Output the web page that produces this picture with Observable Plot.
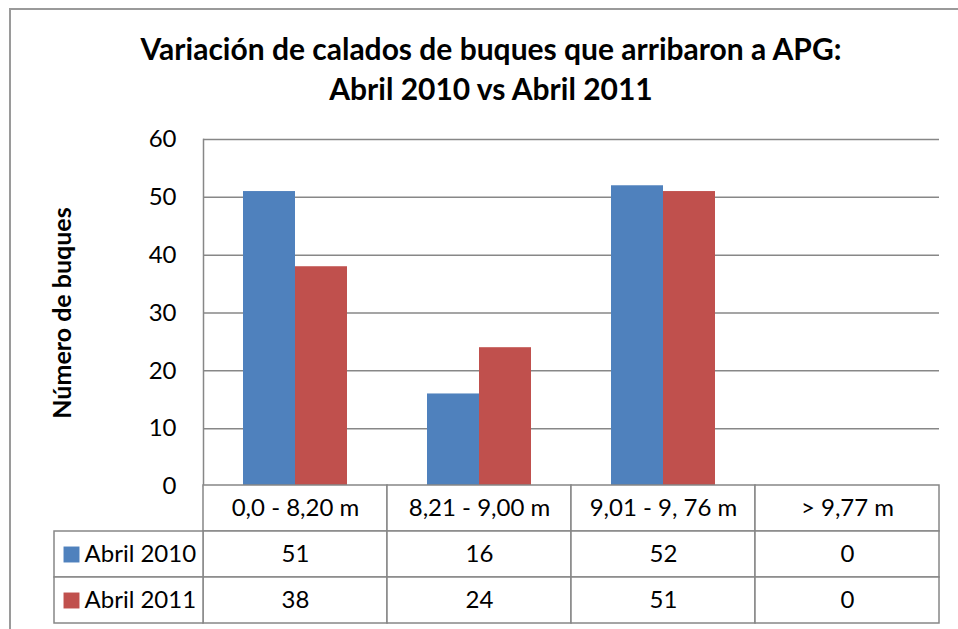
<!DOCTYPE html>
<html><head><meta charset="utf-8">
<script src="https://cdn.jsdelivr.net/npm/d3@7"></script>
<script src="https://cdn.jsdelivr.net/npm/@observablehq/plot@0.6"></script>
<style>
body{margin:0;background:#fff;}
#wrap{position:relative;width:958px;height:629px;overflow:hidden;font-family:Lato, sans-serif;}
#border{position:absolute;left:9px;top:8px;width:1000px;height:700px;border-left:2px solid #9a9a9a;border-top:2px solid #9a9a9a;}
.title{position:absolute;left:0;width:982px;text-align:center;font-weight:bold;font-size:30px;line-height:34px;color:#000;}
#main,#table,#labels{position:absolute;}
#main{left:0;top:0;}
#table{left:0;top:484px;}
#labels{left:53px;top:484px;}
#main g[aria-label="y-axis label"] text{font-weight:bold;font-size:25px;}
</style></head><body>
<div id="wrap">
<div id="border"></div>
<div class="title" style="top:31px">Variación de calados de buques que arribaron a APG:</div>
<div class="title" style="top:71px">Abril 2010 vs Abril 2011</div>
<div id="main"></div><div id="table"></div><div id="labels"></div>
</div>
<script>
const categories = ["0,0 - 8,20 m", "8,21 - 9,00 m", "9,01 - 9, 76 m", "> 9,77 m"];
const series = ["Abril 2010", "Abril 2011"];
const abril2010 = [51, 16, 52, 0];
const abril2011 = [38, 24, 51, 0];
const yTicks = [0, 10, 20, 30, 40, 50, 60];
const colors = ["#4F81BD", "#C0504D"];

const seriesValues = [abril2010, abril2011];
const data = series.flatMap((s, i) => categories.map((c, j) => ({category: c, series: s, value: seriesValues[i][j]})));

const font = {fontFamily: "Lato, sans-serif", fontSize: "24px", color: "#000", background: "transparent", overflow: "visible"};
const grid = "#878787";

const main = Plot.plot({
  width: 958, height: 486,
  marginLeft: 203, marginRight: 19, marginTop: 139, marginBottom: 0,
  style: font,
  x: {domain: categories, padding: 0, axis: null},
  y: {domain: [0, 60], ticks: yTicks, tickSize: 0, tickPadding: 27, label: "Número de buques", labelArrow: false, labelAnchor: "center", labelOffset: 150},
  color: {domain: series, range: colors},
  marks: [
    Plot.ruleY(yTicks.filter(d => d > 0), {stroke: grid, strokeWidth: 1.5}),
    Plot.frame({anchor: "left", stroke: grid, strokeWidth: 1.5}),
    Plot.barY(data.filter(d => d.series === series[0]), {x: "category", y: "value", fill: "series", insetLeft: 40, insetRight: 92}),
    Plot.barY(data.filter(d => d.series === series[1]), {x: "category", y: "value", fill: "series", insetLeft: 92, insetRight: 40})
  ]
});
document.getElementById("main").appendChild(main);

const rows = ["header", ...series];
const tableData = [
  ...categories.map(c => ({category: c, row: "header", text: c})),
  ...data.map(d => ({category: d.category, row: d.series, text: String(d.value)}))
];

const table = Plot.plot({
  width: 958, height: 142,
  marginLeft: 203, marginRight: 19, marginTop: 1, marginBottom: 3,
  style: font,
  x: {domain: categories, padding: 0, axis: null},
  y: {domain: rows, padding: 0, axis: null},
  marks: [
    Plot.cell(tableData, {x: "category", y: "row", fill: "white", stroke: grid, strokeWidth: 1.5}),
    Plot.text(tableData, {x: "category", y: "row", text: "text", fill: "#000", fontSize: 24})
  ]
});
document.getElementById("table").appendChild(table);

const labels = Plot.plot({
  width: 151, height: 142,
  marginLeft: 1, marginRight: 1, marginTop: 1, marginBottom: 3,
  style: font,
  x: {axis: null},
  y: {domain: rows, padding: 0, axis: null},
  color: {domain: series, range: colors},
  marks: [
    Plot.cell(series, {y: d => d, fill: "white", stroke: grid, strokeWidth: 1.5}),
    Plot.dot(series, {y: d => d, frameAnchor: "left", dx: 17, symbol: "square", r: 9, fill: d => d, stroke: null}),
    Plot.text(series, {y: d => d, text: d => d, frameAnchor: "left", dx: 30, textAnchor: "start", fill: "#000", fontSize: 24})
  ]
});
document.getElementById("labels").appendChild(labels);
</script>
</body></html>
